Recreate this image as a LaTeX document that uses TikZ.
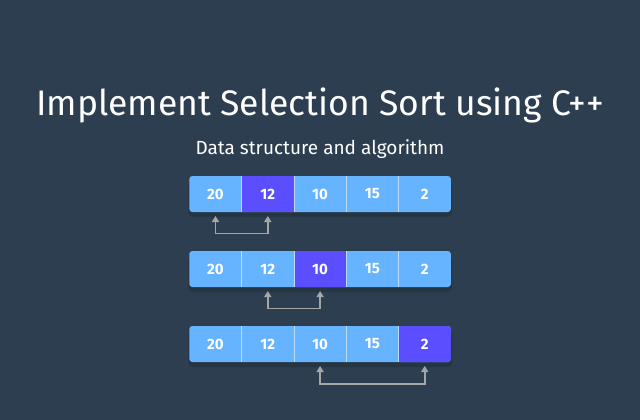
\documentclass[tikz,border=0pt]{standalone}
\usepackage{fontspec}
\setmainfont{Fira Sans}
\usepackage{tikz}
\usetikzlibrary{arrows.meta,positioning,calc,backgrounds}

\definecolor{bgdark}{HTML}{2C3E50}
\definecolor{cellblue}{HTML}{66B3FF}
\definecolor{pickblue}{HTML}{5A4EFF}
\definecolor{swapgray}{HTML}{A4A6A8}

\begin{document}
\begin{tikzpicture}[
            x=1pt, y=-1pt,
            cell/.style={rectangle, minimum width=52.3pt, minimum height=36pt, inner sep=0pt, outer sep=0pt, text=white, font=\bfseries\fontsize{15}{16}\selectfont},
            pick/.style={cell, fill=pickblue},
            divider/.style={draw=white!55!cellblue, line width=0.8pt},
            swap/.style={{Triangle[width=7pt,length=6pt]}-{Triangle[width=7pt,length=6pt]}, draw=swapgray, line width=1.9pt, shorten <=4pt, shorten >=4pt},
            rowbg/.style={fill=cellblue, rounded corners=3pt},
            rowshadow/.style={fill=black, opacity=0.14, rounded corners=4pt}
        ]
            % Headings
            \node[anchor=base, text=white, font=\fontsize{35.5}{40}\selectfont] (title) at (320,115) {Implement Selection Sort using C++};
            \node[anchor=base, text=white, font=\fontsize{19}{21}\selectfont] (subtitle) at (320,154.5) {Data structure and algorithm};

            % Step 1
            \node[cell] (r1a) at (215.5,194) {20};
            \node[pick, right=0pt of r1a] (r1b) {12};
            \node[cell, right=0pt of r1b] (r1c) {10};
            \node[cell, right=0pt of r1c] (r1d) {15};
            \node[cell, right=0pt of r1d] (r1e) {2};

            % Step 2
            \node[cell] (r2a) at (215.5,269) {20};
            \node[cell, right=0pt of r2a] (r2b) {12};
            \node[pick, right=0pt of r2b] (r2c) {10};
            \node[cell, right=0pt of r2c] (r2d) {15};
            \node[cell, right=0pt of r2d] (r2e) {2};

            % Step 3
            \node[cell] (r3a) at (215.5,344) {20};
            \node[cell, right=0pt of r3a] (r3b) {12};
            \node[cell, right=0pt of r3b] (r3c) {10};
            \node[cell, right=0pt of r3c] (r3d) {15};
            \node[pick, right=0pt of r3d, rounded corners=3pt] (r3e) {2};

            % Background and rows
            \begin{scope}[on background layer]
                \fill[bgdark] (0,0) rectangle (640,420);
                \foreach \r in {r1,r2,r3} {
                    \fill[rowshadow] ($(\r a.north west)+(-1,5)$) rectangle ($(\r e.south east)+(1,5)$);
                    \fill[rowbg] (\r a.north west) rectangle (\r e.south east);
                }
            \end{scope}
            \fill[pickblue] (r3e.north west) rectangle ($(r3e.south west)+(4,0)$);

            % Dividers
            \foreach \r in {r1,r2,r3} {
                \draw[divider] (\r a.north east) -- (\r a.south east);
                \draw[divider] (\r b.north east) -- (\r b.south east);
                \draw[divider] (\r c.north east) -- (\r c.south east);
                \draw[divider] (\r d.north east) -- (\r d.south east);
            }

            % Swaps
            \coordinate (low1) at ($(r1a.south)+(0,21.5)$);
            \coordinate (low2) at ($(r2b.south)+(0,21.5)$);
            \coordinate (low3) at ($(r3c.south)+(0,22)$);
            \draw[swap] (r1a) |- (low1) -| (r1b);
            \draw[swap] (r2b) |- (low2) -| (r2c);
            \draw[swap] (r3c) |- (low3) -| (r3e);
        \end{tikzpicture}
\end{document}
